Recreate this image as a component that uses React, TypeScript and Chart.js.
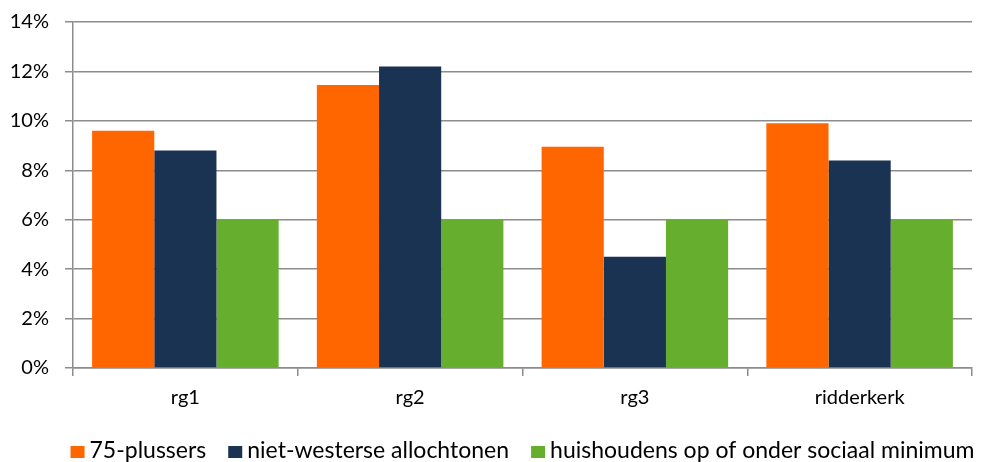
import React, { useEffect, useRef } from "react";
import { Chart, registerables } from "chart.js";

Chart.register(...registerables);

const categories = ["rg1", "rg2", "rg3", "ridderkerk"];
const plussers75 = [9.6, 11.45, 8.95, 9.9];
const nietWesterse = [8.8, 12.2, 4.5, 8.4];
const sociaalMinimum = [6.0, 6.0, 6.0, 6.0];
const seriesNames = [
  "75-plussers",
  "niet-westerse allochtonen",
  "huishoudens op of onder sociaal minimum",
];
const seriesColors = ["#FF6600", "#1B3353", "#66AF2E"];
const yTicks = [0, 2, 4, 6, 8, 10, 12, 14];

const FONT = "Lato, 'Open Sans', sans-serif";

const bottomLegend = {
  id: "bottomLegend",
  afterDraw(chart: any) {
    const ctx = chart.ctx;
    const area = chart.chartArea;
    const fontSize = 23;
    const boxW = 14;
    const boxH = 12;
    const boxGap = 5;
    const itemGap = 22;
    ctx.save();
    ctx.font = `${fontSize}px ${FONT}`;
    ctx.textBaseline = "alphabetic";
    ctx.textAlign = "left";
    const items = chart.data.datasets.map((ds: any) => ({
      label: ds.label,
      color: ds.backgroundColor,
      w: ctx.measureText(ds.label).width,
    }));
    const total =
      items.reduce((s: number, it: any) => s + boxW + boxGap + it.w, 0) +
      itemGap * (items.length - 1);
    let x = (area.left + area.right) / 2 - total / 2;
    const baseline = chart.height - 4;
    for (const it of items) {
      ctx.fillStyle = it.color;
      ctx.fillRect(x, baseline - boxH, boxW, boxH);
      x += boxW + boxGap;
      ctx.fillStyle = "#000";
      ctx.fillText(it.label, x, baseline);
      x += it.w + itemGap;
    }
    ctx.restore();
  },
};

export default function App() {
  const ref = useRef<HTMLCanvasElement>(null);
  useEffect(() => {
    if (!ref.current) return;
    const chart = new Chart(ref.current, {
      type: "bar",
      data: {
        labels: categories,
        datasets: [
          { label: seriesNames[0], data: plussers75, backgroundColor: seriesColors[0] },
          { label: seriesNames[1], data: nietWesterse, backgroundColor: seriesColors[1] },
          { label: seriesNames[2], data: sociaalMinimum, backgroundColor: seriesColors[2] },
        ],
      },
      plugins: [bottomLegend],
      options: {
        animation: false,
        responsive: false,
        layout: { padding: { left: 10, right: 20, top: 0, bottom: 42 } },
        datasets: {
          bar: { categoryPercentage: 0.83, barPercentage: 1.0 },
        },
        plugins: {
          tooltip: { enabled: false },
          legend: { display: false },
        },
        scales: {
          x: {
            grid: {
              offset: true,
              drawOnChartArea: false,
              drawTicks: true,
              tickLength: 8,
              color: "#8c8c8c",
              lineWidth: 1.5,
            },
            border: { color: "#8c8c8c", width: 1.5 },
            ticks: {
              color: "#000",
              padding: 10,
              font: { family: FONT, size: 20 },
            },
          },
          y: {
            min: 0,
            max: 14,
            afterBuildTicks: (axis: any) => {
              axis.ticks = yTicks.map((v) => ({ value: v }));
            },
            afterFit: (axis: any) => {
              axis.width = 63;
              axis.paddingTop = 22;
            },
            grid: {
              color: "#8c8c8c",
              lineWidth: 1.5,
              tickLength: 8,
            },
            border: { color: "#8c8c8c", width: 1.5 },
            ticks: {
              color: "#000",
              padding: 16,
              font: { family: FONT, size: 20 },
              callback: (v: any) => `${v}%`,
            },
          },
        },
      },
    });
    return () => chart.destroy();
  }, []);
  return (
    <div style={{ position: "absolute", left: 0, top: 0, width: 992, height: 462, background: "#fff" }}>
      <canvas ref={ref} width={992} height={462} />
    </div>
  );
}
